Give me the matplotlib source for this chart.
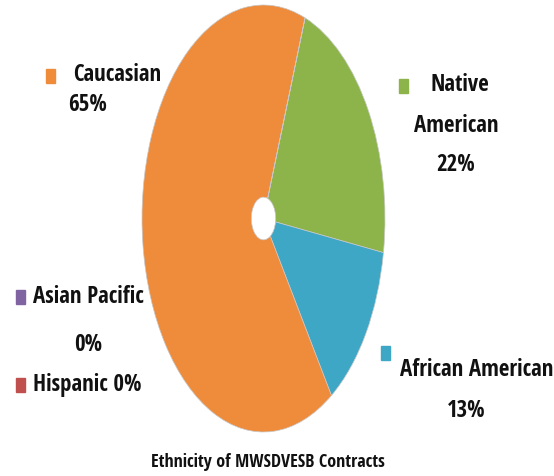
import matplotlib.pyplot as plt

# data, clockwise from the top of the pie
groups = ["Native American", "African American", "Caucasian", "Hispanic", "Asian Pacific"]
shares = [22, 13, 65, 0, 0]
colors = ["#8DB44B", "#3FA7C6", "#EE8C3C", "#C0504D", "#8064A2"]

title = "Ethnicity of MWSDVESB Contracts"
FONT = ["Open Sans Condensed", "Carlito", "DejaVu Sans"]

W, H = 554, 476
fig = plt.figure(figsize=(W / 100, H / 100), dpi=100)

# pie is an ellipse (taller than wide), so it gets its own stretched axes
cx, cy, rx, ry = 263.5, 218.5, 121.5, 213.5
pie_ax = fig.add_axes([(cx - rx) / W, 1 - (cy + ry) / H, 2 * rx / W, 2 * ry / H])
pie_ax.pie(shares, colors=colors, startangle=70, counterclock=False,
           radius=1, wedgeprops=dict(width=0.9, linewidth=0.5, edgecolor="#C8C8C8"))
pie_ax.set_aspect("auto")
pie_ax.set_xlim(-1, 1)
pie_ax.set_ylim(-1, 1)
pie_ax.axis("off")

# overlay axes in pixel coordinates for the labels
ax = fig.add_axes([0, 0, 1, 1])
ax.set_xlim(0, W)
ax.set_ylim(H, 0)
ax.axis("off")

txt = dict(fontsize=16.5, fontweight="bold", family=FONT, color="#111111", va="center")


def square(x, y, c):
    ax.add_patch(plt.Rectangle((x - 4.5, y - 7), 9, 14, color=c))


lab = dict(zip(groups, shares))
col = dict(zip(groups, colors))

square(50, 76, col["Caucasian"])
ax.text(73, 75, "Caucasian", ha="left", **txt)
ax.text(88, 105, f"{lab['Caucasian']}%", ha="center", **txt)

square(403, 86, col["Native American"])
ax.text(430, 85, "Native", ha="left", **txt)
ax.text(456, 126, "American", ha="center", **txt)
ax.text(456, 165, f"{lab['Native American']}%", ha="center", **txt)

square(20, 297, col["Asian Pacific"])
ax.text(33, 297, "Asian Pacific", ha="left", **txt)
ax.text(88, 345, f"{lab['Asian Pacific']}%", ha="center", **txt)

square(20, 385, col["Hispanic"])
ax.text(33, 385, f"Hispanic {lab['Hispanic']}%", ha="left", **txt)

square(385, 353, col["African American"])
ax.text(400, 370, "African American", ha="left", **txt)
ax.text(466, 411, f"{lab['African American']}%", ha="center", **txt)

ax.text(268, 462, title, ha="center", va="center", fontsize=13,
        fontweight="bold", family=FONT, color="#111111")

fig.savefig("out.png", dpi=100)
